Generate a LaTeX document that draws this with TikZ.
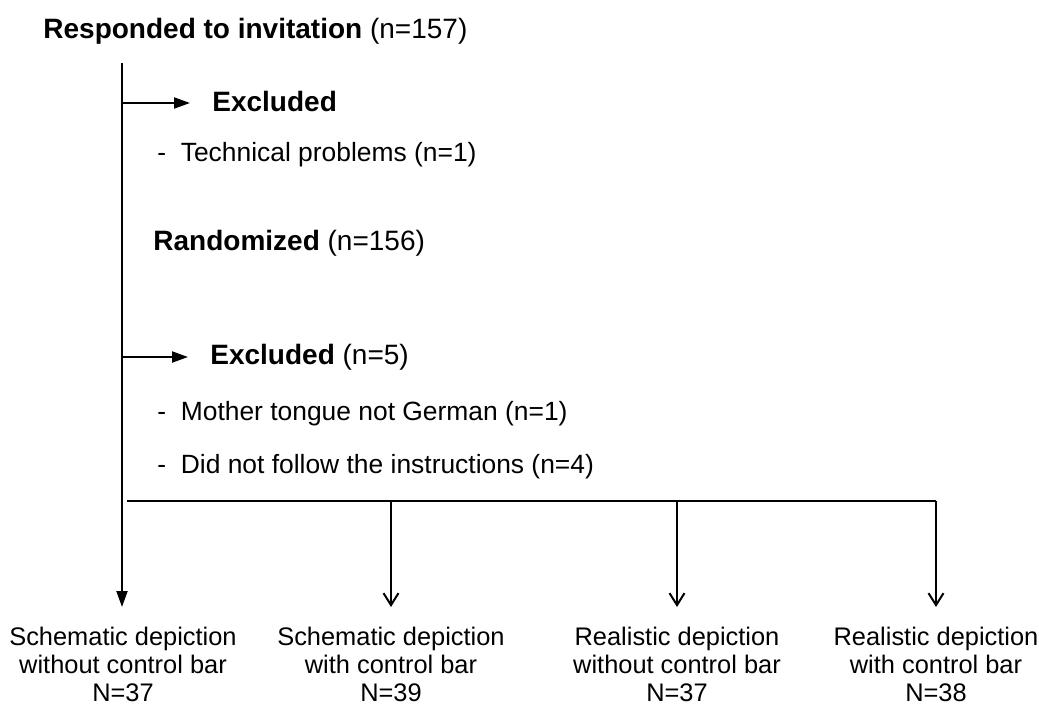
\documentclass[tikz,border=0pt]{standalone}
\usepackage{fontspec}
\setmainfont{Liberation Sans}
\usetikzlibrary{arrows.meta}
\tikzset{%
  flow line/.style={line width=1pt},
  filled tip/.style={flow line,-{Triangle[length=8pt,width=5.5pt]}},
  open tip/.style={flow line,-{Straight Barb[length=6pt,width=7.5pt]}},
  step text/.style={anchor=base west, inner sep=0pt, font=\fontsize{14}{16}\selectfont},
  item text/.style={step text, font=\fontsize{13.2}{15}\selectfont},
  group text/.style={anchor=north, inner sep=0pt, align=center, font=\fontsize{12.7}{14}\selectfont},
}
\newcommand{\FlowData}{
  \pgfmathsetmacro{\xm}{122}% x of main line
  \pgfmathsetmacro{\ys}{501}% y of split line
  \coordinate (top) at (\xm,63);
  \coordinate (branch1) at (\xm,103);
  \coordinate (branch2) at (\xm,357);
  \coordinate (split) at (127,\ys);
  \coordinate (split end) at (936,\ys);
}

\begin{document}
\begin{tikzpicture}[x=0.5pt,y=-0.5pt]
  \useasboundingbox (0,0) rectangle (1039,707);
  \FlowData% makes coordinates available
  \node [step text] (invited) at (43,38) {\textbf{Responded to invitation} (n=157)};
  \node [step text] (excl1) at (212,111) {\textbf{Excluded}};
  \node [item text] (technical) at (157,161) {-\ \ Technical problems (n=1)};
  \node [step text] (randomized) at (153,250) {\textbf{Randomized} (n=156)};
  \node [step text] (excl2) at (210,364) {\textbf{Excluded} (n=5)};
  \node [item text] (tongue) at (157,420) {-\ \ Mother tongue not German (n=1)};
  \node [item text] (instructions) at (157,473) {-\ \ Did not follow the instructions (n=4)};
  \node [group text] (g1) at (123,627) {Schematic depiction\\without control bar\\N=37};
  \node [group text] (g2) at (391,627) {Schematic depiction\\with control bar\\N=39};
  \node [group text] (g3) at (677,627) {Realistic depiction\\without control bar\\N=37};
  \node [group text] (g4) at (936,627) {Realistic depiction\\with control bar\\N=38};
  \draw [filled tip, shorten >=10pt] (top) -- (top |- g1.north);
  \foreach \b/\e in {branch1/excl1, branch2/excl2}
    \draw [filled tip, shorten >=11pt] (\b) -- (\b -| \e.west);
  \draw [flow line] (split) -- (split end);
  \foreach \g in {g2,g3,g4}
    \draw [open tip, shorten >=10pt] (\g.north |- split) -- (\g.north);
\end{tikzpicture}
\end{document}
